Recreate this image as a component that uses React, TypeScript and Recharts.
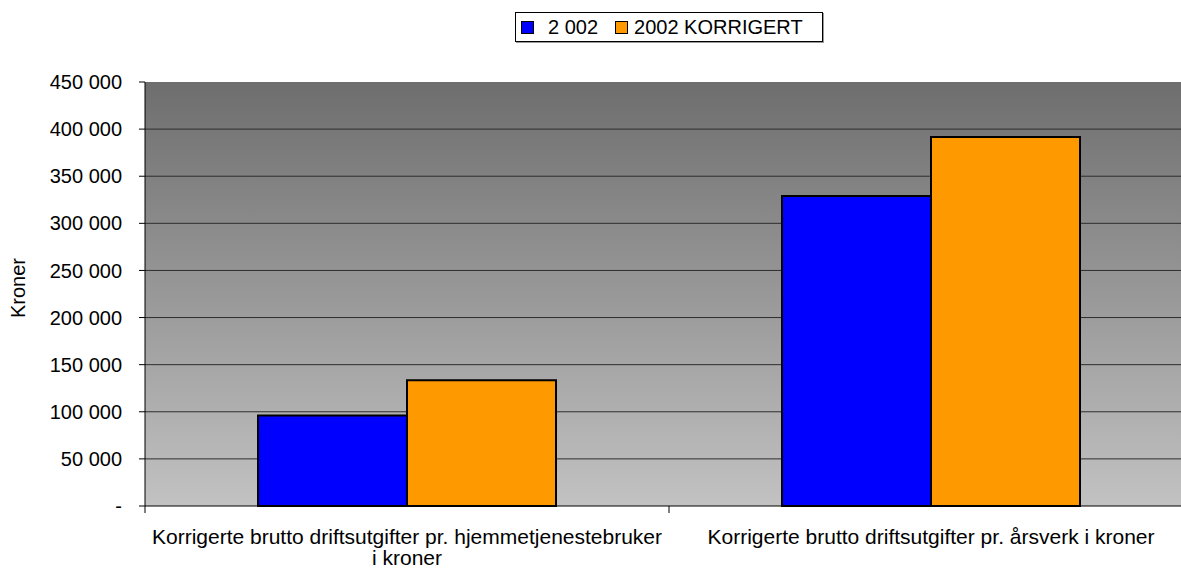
import { BarChart, Bar, XAxis, YAxis, CartesianGrid } from "recharts";

const categories = [
  "Korrigerte brutto driftsutgifter pr. hjemmetjenestebruker\ni kroner",
  "Korrigerte brutto driftsutgifter pr. årsverk i kroner",
];
const values2002 = [96000, 329000];
const values2002Korrigert = [133500, 391500];
const yTicks = [0, 50000, 100000, 150000, 200000, 250000, 300000, 350000, 400000, 450000];
const seriesNames = ["2 002", "2002 KORRIGERT"];
const seriesColors = ["#0000ff", "#ff9900"];

const data = categories.map((name, i) => ({
  name,
  v2002: values2002[i],
  v2002k: values2002Korrigert[i],
}));

const FONT = '"Liberation Sans", Arial, Helvetica, sans-serif';

const formatKroner = (v: number) =>
  v === 0 ? "-" : String(v).replace(/\B(?=(\d{3})+(?!\d))/g, " ");

const CategoryTick = (props: any) => {
  const { x, y, payload } = props;
  const half = payload.offset ?? 0;
  const lines = String(payload.value).split("\n");
  return (
    <g>
      <line x1={x - half} x2={x - half} y1={y} y2={y + 7} stroke="#000" />
      <text x={x} y={y + 38} textAnchor="middle" fontSize={21} fill="#000" fontFamily={FONT}>
        {lines.map((line, i) => (
          <tspan key={i} x={x} dy={i === 0 ? 0 : 21}>
            {line}
          </tspan>
        ))}
      </text>
    </g>
  );
};

const KronerLabel = (props: any) => {
  const { viewBox } = props;
  const cx = viewBox.x + 18;
  const cy = viewBox.y + viewBox.height / 2 - 6;
  return (
    <text
      x={cx}
      y={cy}
      transform={`rotate(-90 ${cx} ${cy})`}
      textAnchor="middle"
      dominantBaseline="central"
      fontSize={20}
      fill="#000"
      fontFamily={FONT}
    >
      Kroner
    </text>
  );
};

const LegendBox = () => (
  <div
    style={{
      position: "absolute",
      left: 515,
      top: 12,
      height: 30,
      display: "flex",
      alignItems: "center",
      border: "1px solid #000",
      boxShadow: "1px 1px 0 #999",
      background: "#fff",
      padding: "0 19px 0 5px",
      fontSize: 20,
      fontFamily: FONT,
      color: "#000",
      boxSizing: "border-box",
    }}
  >
    {seriesNames.map((name, i) => (
      <span key={name} style={{ display: "flex", alignItems: "center", marginRight: i === 0 ? 17 : 0 }}>
        <span
          style={{
            display: "inline-block",
            width: 11,
            height: 11,
            background: seriesColors[i],
            border: "1px solid #000",
            marginRight: i === 0 ? 14 : 6,
          }}
        />
        {name}
      </span>
    ))}
  </div>
);

export default function App() {
  return (
    <div
      style={{
        position: "fixed",
        left: 0,
        top: 0,
        width: 1181,
        height: 571,
        overflow: "hidden",
        background: "#fff",
        fontFamily: FONT,
      }}
    >
      <BarChart
        width={1193}
        height={571}
        data={data}
        margin={{ top: 82, right: 0, bottom: 0, left: 0 }}
        barGap={0}
        barSize={149}
      >
        <defs>
          <linearGradient id="plotBg" x1="0" y1="0" x2="0" y2="1">
            <stop offset="0%" stopColor="#6e6e6e" />
            <stop offset="100%" stopColor="#c2c2c2" />
          </linearGradient>
        </defs>
        <CartesianGrid
          fill="url(#plotBg)"
          fillOpacity={1}
          vertical={false}
          stroke="#2e2e2e"
          horizontalValues={yTicks.slice(1, -1)}
        />
        <XAxis
          dataKey="name"
          height={65}
          axisLine={{ stroke: "#000" }}
          tickLine={false}
          tickSize={0}
          tickMargin={0}
          interval={0}
          tick={<CategoryTick />}
        />
        <YAxis
          width={145}
          domain={[0, 450000]}
          ticks={yTicks}
          interval={0}
          tickFormatter={formatKroner}
          axisLine={{ stroke: "#000" }}
          tickLine={{ stroke: "#000" }}
          tickSize={6}
          tickMargin={17}
          tick={{ fill: "#000", fontSize: 20, fontFamily: FONT }}
          label={<KronerLabel />}
        />
        <Bar
          dataKey="v2002"
          name={seriesNames[0]}
          fill={seriesColors[0]}
          stroke="#000"
          strokeWidth={2}
          isAnimationActive={false}
        />
        <Bar
          dataKey="v2002k"
          name={seriesNames[1]}
          fill={seriesColors[1]}
          stroke="#000"
          strokeWidth={2}
          isAnimationActive={false}
        />
      </BarChart>
      <LegendBox />
    </div>
  );
}
